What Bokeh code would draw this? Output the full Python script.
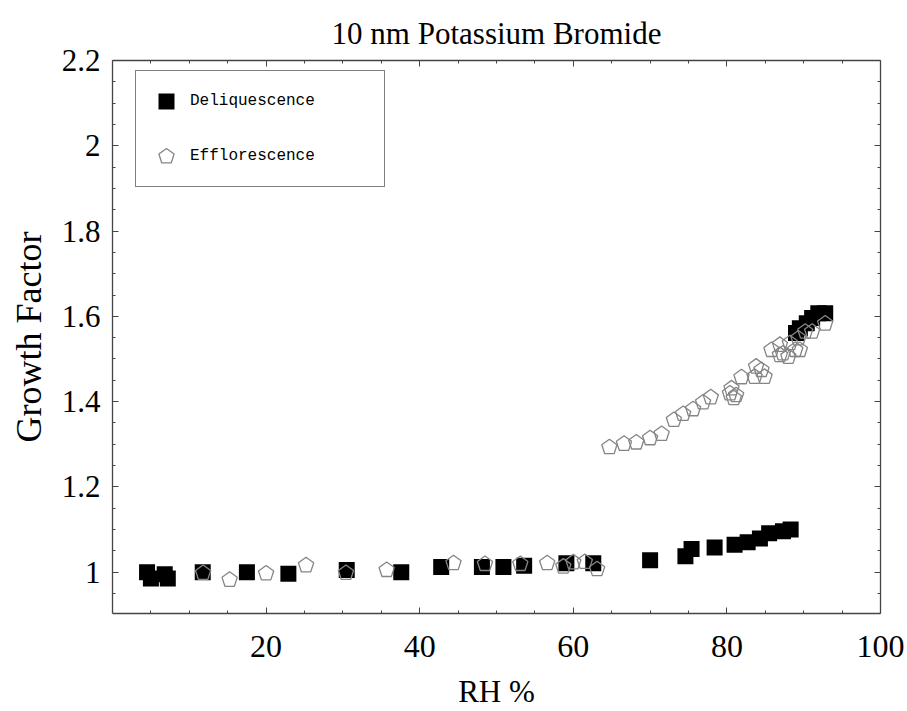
from bokeh.plotting import figure
from bokeh.models import (Range1d, LinearAxis, FixedTicker, CustomJSTickFormatter,
                          Legend, LegendItem, ColumnDataSource, Ngon)
from bokeh.embed import file_html
from bokeh.resources import INLINE

# ---- data ----
deli_rh = [4.5, 5.0, 6.8, 7.2, 11.75, 17.5, 22.9, 30.5, 37.6, 42.8, 48.1, 50.9, 53.6,
           59.1, 62.6, 70.0, 74.6, 75.4, 78.4, 81.0, 82.7, 84.3, 85.5, 87.3, 88.3,
           89.0, 89.5, 90.4, 91.1, 91.9, 92.8]
deli_gf = [1.000, 0.985, 0.995, 0.985, 1.000, 1.000, 0.996, 1.005, 1.000, 1.012, 1.012,
           1.012, 1.015, 1.021, 1.021, 1.028, 1.037, 1.054, 1.058, 1.064, 1.070, 1.079,
           1.091, 1.096, 1.100, 1.561, 1.572, 1.584, 1.596, 1.607, 1.607]

efflo_rh = [11.8, 15.25, 20.0, 25.2, 30.4, 35.7, 44.4, 48.5, 53.1, 56.6, 58.7, 60.0, 61.5,
            63.1,
            64.7, 66.6, 68.2, 70.0, 71.5, 73.1, 74.3, 75.6, 76.9, 77.9,
            80.4, 80.6, 81.2, 80.9, 81.9,
            83.6, 83.8, 84.5, 84.9,
            85.8, 86.9, 86.9, 87.3, 88.0, 88.2, 88.9, 89.5,
            89.3, 90.2, 91.1, 92.8]
efflo_gf = [0.998, 0.982, 0.997, 1.016, 0.998, 1.005, 1.021, 1.019, 1.019, 1.021, 1.013,
            1.023, 1.024, 1.007,
            1.293, 1.301, 1.304, 1.314, 1.324, 1.357, 1.371, 1.382, 1.398, 1.410,
            1.419, 1.431, 1.415, 1.408, 1.457,
            1.458, 1.482, 1.474, 1.458,
            1.521, 1.533, 1.509, 1.513, 1.505, 1.537, 1.521, 1.521,
            1.548, 1.564, 1.564, 1.583]

x_major = [20, 40, 60, 80, 100]
x_minor = [5, 10, 15, 25, 30, 35, 45, 50, 55, 65, 70, 75, 85, 90, 95]
y_major = [1.0, 1.2, 1.4, 1.6, 1.8, 2.0, 2.2]
y_minor = [0.95, 1.05, 1.1, 1.15, 1.25, 1.3, 1.35, 1.45, 1.5, 1.55, 1.65, 1.7, 1.75,
           1.85, 1.9, 1.95, 2.05, 2.1, 2.15]

SERIF = "Liberation Serif"
AXIS_COLOR = "#444444"

p = figure(width=907, height=711, output_backend="svg", toolbar_location=None,
           x_range=Range1d(0, 100), y_range=Range1d(0.903, 2.2),
           min_border_left=112, min_border_right=27, min_border_top=60,
           min_border_bottom=97)
p.xgrid.visible = False
p.ygrid.visible = False
p.outline_line_color = None
p.background_fill_color = "white"
p.border_fill_color = "white"

p.title.text = "10 nm Potassium Bromide"
p.title.align = "center"
p.title.text_font = SERIF
p.title.text_font_size = "31px"
p.title.text_font_style = "normal"
p.title.text_color = "black"
p.title.standoff = 20

fmt = CustomJSTickFormatter(code="return Number(tick.toFixed(2)).toString();")
blank = CustomJSTickFormatter(code="return '';")


def style_axis(ax):
    ax.axis_line_color = AXIS_COLOR
    ax.axis_line_width = 1.3
    ax.major_tick_line_color = AXIS_COLOR
    ax.minor_tick_line_color = AXIS_COLOR
    ax.major_tick_in = 6
    ax.major_tick_out = 0
    ax.minor_tick_in = 3
    ax.minor_tick_out = 0
    ax.major_label_text_font = SERIF
    ax.major_label_text_color = "black"
    ax.axis_label_text_font = SERIF
    ax.axis_label_text_font_style = "normal"
    ax.axis_label_text_color = "black"


xt = FixedTicker(ticks=x_major, minor_ticks=x_minor)
yt = FixedTicker(ticks=y_major, minor_ticks=y_minor)

xa = p.xaxis[0]
xa.ticker = xt
xa.formatter = fmt
xa.axis_label = "RH %"
style_axis(xa)
xa.major_label_text_font_size = "32px"
xa.axis_label_text_font_size = "31px"
xa.major_label_standoff = 22
xa.axis_label_standoff = 14

ya = p.yaxis[0]
ya.ticker = yt
ya.formatter = fmt
ya.axis_label = "Growth Factor"
style_axis(ya)
ya.major_label_text_font_size = "31px"
ya.axis_label_text_font_size = "36px"
ya.major_label_standoff = 12
ya.axis_label_standoff = 10

top = LinearAxis(ticker=xt, formatter=blank)
style_axis(top)
top.major_label_standoff = 0
p.add_layout(top, "above")
right = LinearAxis(ticker=yt, formatter=blank)
style_axis(right)
right.major_label_standoff = 0
p.add_layout(right, "right")

deli_src = ColumnDataSource(dict(x=deli_rh, y=deli_gf))
efflo_src = ColumnDataSource(dict(x=efflo_rh, y=efflo_gf))

sq = p.scatter(x="x", y="y", source=deli_src, marker="square", size=16,
               fill_color="black", line_color="black", line_width=0)

pent_glyph = Ngon(x="x", y="y", radius=8, radius_units="screen", n=5, angle=0,
                  fill_color=None, line_color="#858585", line_width=1.3)
pent = p.add_glyph(efflo_src, pent_glyph)

legend = Legend(items=[LegendItem(label="Deliquescence", renderers=[sq]),
                       LegendItem(label="Efflorescence", renderers=[pent])],
                location=(23, 426))
legend.label_text_font = "Liberation Mono"
legend.label_text_font_size = "16px"
legend.label_text_color = "black"
legend.glyph_width = 40
legend.glyph_height = 40
legend.spacing = 15
legend.padding = 10
legend.margin = 0
legend.label_standoff = 4
legend.label_width = 184
legend.border_line_color = "black"
legend.border_line_width = 1
legend.background_fill_color = "white"
legend.background_fill_alpha = 1.0
p.add_layout(legend)

open("out.html", "w").write(file_html(p, INLINE))
